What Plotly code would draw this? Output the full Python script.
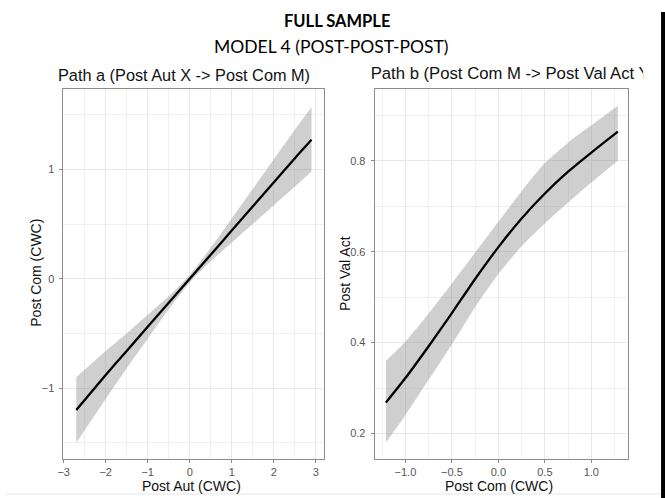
import plotly.graph_objects as go

W, H = 665, 498

# Path a: linear fit of Post Com (CWC) on Post Aut (CWC) with 95% band
path_a_x = [-2.7, -2.0, -1.5, -1.0, -0.5, 0.0, 0.5, 1.0, 1.5, 2.0, 2.5, 2.9]
path_a_fit = [-1.20, -0.88, -0.66, -0.44, -0.22, 0.0, 0.22, 0.44, 0.66, 0.88, 1.10, 1.27]
path_a_upper = [-0.90, -0.66, -0.50, -0.33, -0.16, 0.035, 0.28, 0.55, 0.82, 1.09, 1.36, 1.57]
path_a_lower = [-1.50, -1.10, -0.82, -0.55, -0.28, -0.035, 0.16, 0.33, 0.50, 0.67, 0.84, 0.98]

# Path b: fitted Post Val Act over Post Com (CWC) with 95% band
path_b_x = [-1.21, -1.0, -0.75, -0.5, -0.25, 0.0, 0.25, 0.5, 0.75, 1.0, 1.285]
path_b_fit = [0.268, 0.322, 0.392, 0.465, 0.540, 0.610, 0.673, 0.728, 0.776, 0.818, 0.864]
path_b_upper = [0.360, 0.402, 0.464, 0.530, 0.598, 0.666, 0.733, 0.795, 0.840, 0.878, 0.921]
path_b_lower = [0.180, 0.240, 0.318, 0.396, 0.478, 0.551, 0.612, 0.662, 0.708, 0.752, 0.800]

# tick labels
a_xticks = [-3, -2, -1, 0, 1, 2, 3]
a_yticks = [-1, 0, 1]
b_xticks = [-1.0, -0.5, 0.0, 0.5, 1.0]
b_yticks = [0.2, 0.4, 0.6, 0.8]

BAND = "rgba(140,140,140,0.42)"
FONT = "Liberation Sans, Arial, sans-serif"


def px_x(p):
    return p / W


def px_y(p):
    return (H - p) / H


fig = go.Figure()


def add_panel(xs, fit, lo, hi, xa, ya):
    smooth = dict(shape="spline", smoothing=0.6)
    fig.add_trace(go.Scatter(
        x=xs, y=lo, xaxis=xa, yaxis=ya, mode="lines",
        line=dict(width=0, **smooth), hoverinfo="skip", showlegend=False))
    fig.add_trace(go.Scatter(
        x=xs, y=hi, xaxis=xa, yaxis=ya, mode="lines",
        fill="tonexty", fillcolor=BAND,
        line=dict(width=0, **smooth), hoverinfo="skip", showlegend=False))
    fig.add_trace(go.Scatter(
        x=xs, y=fit, xaxis=xa, yaxis=ya, mode="lines",
        line=dict(color="black", width=2.3, **smooth),
        showlegend=False))


add_panel(path_a_x, path_a_fit, path_a_lower, path_a_upper, "x", "y")
add_panel(path_b_x, path_b_fit, path_b_lower, path_b_upper, "x2", "y2")

# right-hand panel title, clipped at the page edge
fig.add_trace(go.Scatter(
    x=[0], y=[0.5], xaxis="x3", yaxis="y3", mode="text",
    text=["Path b (Post Com M -> Post Val Act Y)"],
    textposition="middle right", cliponaxis=True,
    textfont=dict(family=FONT, size=16.7, color="#111111"),
    hoverinfo="skip", showlegend=False))

axis_common = dict(
    showline=True, linecolor="#8c8c8c", linewidth=1, mirror=True,
    ticks="outside", ticklen=3, tickcolor="#8c8c8c", tickwidth=1,
    showgrid=True, gridcolor="#e8e8e8", gridwidth=1,
    zeroline=False,
    tickfont=dict(family=FONT, size=11, color="#555555"),
)

left_dom = [px_x(58), px_x(321)]
right_dom = [px_x(372), px_x(628)]
plot_dom = [px_y(458.5), px_y(89)]

fig.update_layout(
    width=W, height=H,
    margin=dict(l=0, r=0, t=0, b=0),
    paper_bgcolor="white", plot_bgcolor="white",
    xaxis=dict(axis_common, domain=left_dom, range=[-3.005, 3.2], anchor="y",
               tickmode="array", tickvals=a_xticks,
               minor=dict(tickmode="linear", tick0=-2.5, dtick=1, showgrid=True,
                          gridcolor="#f0f0f0", gridwidth=0.7, ticks="")),
    yaxis=dict(axis_common, domain=plot_dom, range=[-1.644, 1.735], anchor="x",
               tickmode="array", tickvals=a_yticks, ticklabelstandoff=3,
               minor=dict(tickmode="linear", tick0=-1.5, dtick=1, showgrid=True,
                          gridcolor="#f0f0f0", gridwidth=0.7, ticks="")),
    xaxis2=dict(axis_common, domain=right_dom, range=[-1.331, 1.398], anchor="y2",
                tickmode="array", tickvals=b_xticks, tickformat=".1f",
                minor=dict(tickmode="linear", tick0=-1.25, dtick=0.5, showgrid=True,
                           gridcolor="#f0f0f0", gridwidth=0.7, ticks="")),
    yaxis2=dict(axis_common, domain=plot_dom, range=[0.145, 0.958], anchor="x2",
                tickmode="array", tickvals=b_yticks, tickformat=".1f",
                ticklabelstandoff=3,
                minor=dict(tickmode="linear", tick0=0.3, dtick=0.2, showgrid=True,
                           gridcolor="#f0f0f0", gridwidth=0.7, ticks="")),
    xaxis3=dict(domain=[px_x(368), px_x(643)], range=[0, 1], visible=False,
                anchor="y3", fixedrange=True),
    yaxis3=dict(domain=[px_y(88), px_y(62)], range=[0, 1], visible=False,
                anchor="x3", fixedrange=True),
)

ann = []
ann.append(dict(text="<b>FULL SAMPLE</b>", x=px_x(334), y=px_y(21),
                font=dict(family="Lato, Open Sans, sans-serif", size=16.5, color="black")))
ann.append(dict(text="MODEL 4 (POST-POST-POST)", x=px_x(328), y=px_y(47),
                font=dict(family="Lato, Open Sans, sans-serif", size=17.5, color="black")))
ann.append(dict(text="Path a (Post Aut X -> Post Com M)", x=px_x(50), y=px_y(75),
                xanchor="left", font=dict(family=FONT, size=16.3, color="#111111")))
ann.append(dict(text="Post Aut (CWC)", x=px_x(187), y=px_y(486),
                font=dict(family=FONT, size=14, color="#111111")))
ann.append(dict(text="Post Com (CWC)", x=px_x(30), y=px_y(273), textangle=-90,
                font=dict(family=FONT, size=14, color="#111111")))
ann.append(dict(text="Post Com (CWC)", x=px_x(497), y=px_y(486),
                font=dict(family=FONT, size=14, color="#111111")))
ann.append(dict(text="Post Val Act", x=px_x(342), y=px_y(273), textangle=-90,
                font=dict(family=FONT, size=14, color="#111111")))
for a in ann:
    a.setdefault("xanchor", "center")
    a.update(xref="paper", yref="paper", yanchor="middle", showarrow=False)
fig.update_layout(annotations=ann)

# dark strip along the right edge and a faint rule along the bottom
fig.add_shape(type="rect", xref="paper", yref="paper",
              x0=px_x(661), x1=1.0, y0=0, y1=px_y(12),
              fillcolor="black", line=dict(width=0), layer="above")
fig.add_shape(type="line", xref="paper", yref="paper",
              x0=0, x1=px_x(661), y0=px_y(494), y1=px_y(494),
              line=dict(color="#e6e6e6", width=1))

fig.write_html("out.html")
